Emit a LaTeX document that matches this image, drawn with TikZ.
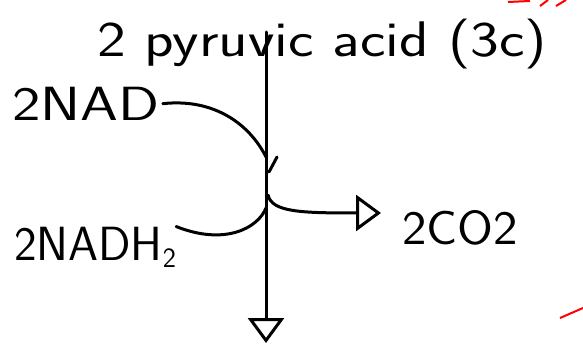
\documentclass[tikz,border=0pt]{standalone}
\usepackage{graphicx}
\usepackage{tikz}
\usetikzlibrary{arrows.meta,positioning}

\begin{document}
\begin{tikzpicture}[x=1pt,y=-1pt,
  every node/.style={font=\sffamily\fontsize{48}{50}\selectfont,inner sep=0pt},
  flow/.style={line width=3pt,line cap=round},
  head/.style={-{Triangle[open,length=25pt,width=36pt,line width=3pt]}}]
\useasboundingbox (0,0) rectangle (583,347);

\node[font=\sffamily\fontsize{50}{52}\selectfont] (acid) at (322,44) {\scalebox{1.22}[1]{2 pyruvic acid (3c)}};
\node (nad) at (86,104) {\scalebox{1.26}[1]{2NAD}};
\node (nadh) at (95,247) {2NADH\raisebox{-0.35ex}{\fontsize{28}{28}\selectfont 2}};
\node (co) at (460,228) {\scalebox{1.08}[1]{2CO2}};

\coordinate (top) at (266,32);
\coordinate (bot) at (266,343);
\coordinate (in) at (266,157);
\coordinate (split) at (268,195);
\coordinate (out) at (266,208);
\coordinate (cotip) at (381,213);

% main line
\draw[flow,head] (top) -- (bot);

% NAD in, NADH2 out
\draw[flow,shorten <=3pt] (nad.east) .. controls (215,98) and (250,125) .. (in);
\draw[flow] (269,172) -- (277,157);
\draw[flow] (out) .. controls (258,228) and (225,246) .. (nadh.north east);

% CO2 out
\draw[flow,head] (split) .. controls (272,212) and (300,213) .. (cotip);

\draw[red,line width=2pt] (560,318) -- (583,308);
\draw[red,line width=2pt] (508,2) -- (530,1) (540,6) -- (548,0) (556,6) -- (566,0);
\end{tikzpicture}
\end{document}
